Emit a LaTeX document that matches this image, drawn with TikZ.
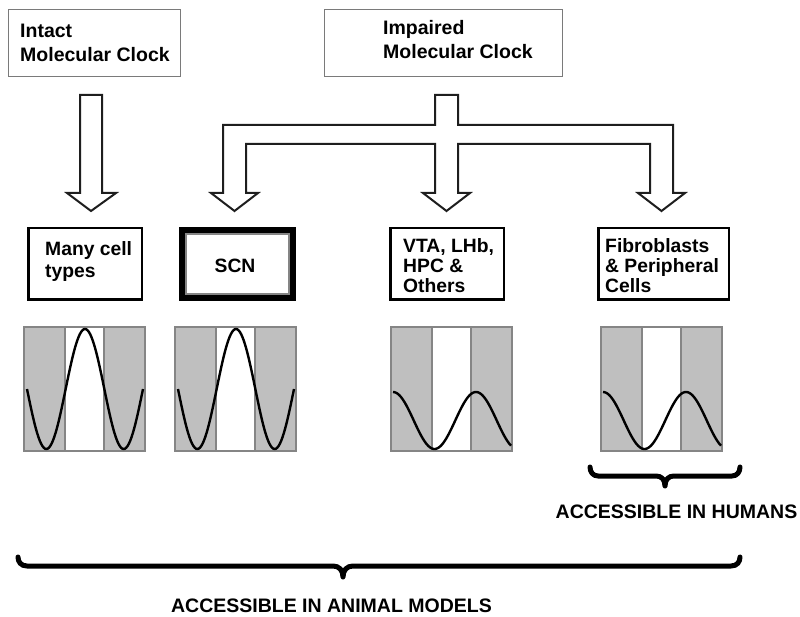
\documentclass[tikz,border=0pt]{standalone}
\usepackage{fontspec}
\setmainfont{Liberation Sans}
\definecolor{boxgray}{HTML}{7A7A7A}
\definecolor{plotgray}{HTML}{BFBFBF}
\definecolor{framegray}{HTML}{858585}
\definecolor{arrowcol}{HTML}{1E1E1E}
\begin{document}
\begin{tikzpicture}[x=1pt,y=-1pt,
  topbox/.style={draw=boxgray, line width=1.2pt, inner sep=0pt, fill=white},
  midbox/.style={draw=black, line width=2.5pt, inner sep=0pt, fill=white},
  toplbl/.style={anchor=base west, inner sep=0pt, font=\bfseries\fontsize{19.5}{24}\selectfont},
  midlbl/.style={anchor=base west, inner sep=0pt, font=\bfseries\fontsize{19.3}{20}\selectfont},
  botlbl/.style={inner sep=0pt, font=\bfseries\fontsize{19.5}{24}\selectfont},
  blockarrow/.style={draw=arrowcol, line width=2pt, fill=white, line join=miter},
  wave/.style={draw=black, line width=2.4pt},
  bracestyle/.style={draw=black, line width=5pt, line cap=round, line join=round},
  plotframe/.style={draw=framegray, line width=1.2pt}
]
\useasboundingbox (0,0) rectangle (800,617);

% top boxes
\node[topbox, minimum width=172pt, minimum height=67pt] (intact) at (94.5,43) {};
\node[toplbl] (intactA) at (20,38) {Intact};
\node[toplbl] (intactB) at (20,62) {Molecular Clock};

\node[topbox, minimum width=238pt, minimum height=67pt] (impaired) at (443.5,43) {};
\node[toplbl] (impA) at (383,35) {Impaired};
\node[toplbl] (impB) at (383,59) {Molecular Clock};

% block arrows
\draw[blockarrow] (80,95) -- (102,95) -- (102,193) -- (116,193) -- (91,211) -- (67,193) -- (80,193) -- cycle;

\draw[blockarrow] (435,95) -- (458,95) -- (458,125) -- (673,125) -- (673,193) -- (685,193)
  -- (661.5,211) -- (638,193) -- (650,193) -- (650,144) -- (458,144) -- (458,193)
  -- (470,193) -- (446.5,211) -- (423,193) -- (435,193) -- (435,144) -- (246,144)
  -- (246,193) -- (258,193) -- (234.5,211) -- (211,193) -- (223,193) -- (223,125)
  -- (435,125) -- cycle;

% middle boxes
\node[midbox, minimum width=113.5pt, minimum height=71.5pt] (many) at (85,264) {};
\node[midlbl] (manyA) at (45,256) {Many cell};
\node[midlbl] (manyB) at (45,278) {types};

\node[draw=black, line width=6pt, inner sep=0pt, fill=white, minimum width=111pt, minimum height=68pt] (scn) at (237.5,264) {};
\node[draw=framegray, line width=2.5pt, inner sep=0pt, minimum width=103pt, minimum height=60pt] (scnin) at (237.5,264) {};
\node[inner sep=0pt, font=\bfseries\fontsize{19.3}{20}\selectfont] (scnlbl) at (235,265.5) {SCN};

\node[midbox, minimum width=113.5pt, minimum height=71.5pt] (vta) at (447,264) {};
\node[midlbl] (vtaA) at (403,253) {VTA, LHb,};
\node[midlbl] (vtaB) at (403,273) {HPC \&};
\node[midlbl] (vtaC) at (403,293) {Others};

\node[midbox, minimum width=130.5pt, minimum height=71.5pt] (fib) at (663.5,264) {};
\node[midlbl] (fibA) at (605,253) {Fibroblasts};
\node[midlbl] (fibB) at (605,273) {\& Peripheral};
\node[midlbl] (fibC) at (605,293) {Cells};

% plots
\foreach \L in {24,175,391,601}{
  \fill[plotgray] (\L,327) rectangle ({\L+121},451);
  \fill[white] ({\L+41},327) rectangle ({\L+80},451);
  \draw[plotframe] (\L,327) rectangle ({\L+121},451);
  \draw[plotframe] ({\L+41},327) -- ({\L+41},451);
  \draw[plotframe] ({\L+80},327) -- ({\L+80},451);
}
\foreach \L in {24,175}{
  \draw[wave] plot[domain=-270:270, samples=91, smooth, variable=\t]
    ({\L+3+(\t+270)/540*116},{389-60*cos(\t)});
}
\foreach \L in {391,601}{
  \draw[wave] plot[domain=0:512, samples=91, smooth, variable=\t]
    ({\L+2+\t/360*83},{420.5-28.5*cos(\t)});
}

% braces
\draw[bracestyle] (590,467) .. controls (590,472) and (593,476) .. (598,476) -- (656,476)
  .. controls (661,476) and (665,479) .. (665,486)
  .. controls (665,479) and (669,476) .. (674,476) -- (732,476)
  .. controls (737,476) and (740,472) .. (740,467);
\node[botlbl] (humans) at (676.5,512) {ACCESSIBLE IN HUMANS};

\draw[bracestyle] (18,557) .. controls (18,562) and (21,566) .. (27,566) -- (333,566)
  .. controls (339,566) and (343,570) .. (343,577)
  .. controls (343,570) and (347,566) .. (353,566) -- (731,566)
  .. controls (737,566) and (740,562) .. (740,557);
\node[botlbl] (animals) at (331.5,606) {ACCESSIBLE IN ANIMAL MODELS};
\end{tikzpicture}
\end{document}
